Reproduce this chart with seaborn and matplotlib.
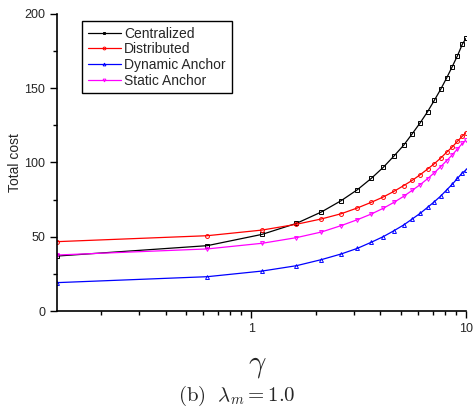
import numpy as np
import pandas as pd
import matplotlib
matplotlib.use("Agg")
import matplotlib.pyplot as plt
import seaborn as sns
from matplotlib.ticker import LogLocator, FixedLocator, NullFormatter, FixedFormatter

gamma = [0.125, 0.625, 1.125, 1.625, 2.125, 2.625, 3.125, 3.625, 4.125, 4.625, 5.125,
         5.625, 6.125, 6.625, 7.125, 7.625, 8.125, 8.625, 9.125, 9.625, 10.0]
centralized = [37.0, 44.0, 51.6, 59.0, 66.7, 74.3, 81.7, 89.3, 96.8, 104.4, 111.6,
               119.4, 126.8, 134.2, 141.9, 149.3, 156.9, 164.5, 171.9, 179.8, 183.6]
distributed = [46.7, 50.7, 54.5, 58.4, 62.0, 65.5, 69.4, 73.2, 76.8, 80.6, 84.4,
               88.0, 91.8, 95.6, 99.2, 103.0, 106.9, 110.4, 114.3, 117.8, 120.1]
dynamic_anchor = [19.1, 23.1, 26.9, 30.5, 34.6, 38.4, 42.2, 46.3, 50.1, 54.1, 57.9,
                  62.0, 65.8, 69.8, 73.6, 77.4, 81.5, 85.3, 89.3, 93.1, 94.9]
static_anchor = [37.7, 41.8, 45.6, 49.4, 53.2, 57.5, 61.5, 65.3, 69.2, 73.2, 77.2,
                 81.3, 85.1, 89.1, 93.1, 97.2, 101.2, 105.1, 109.1, 112.9, 115.2]
series_names = ["Centralized", "Distributed", "Dynamic Anchor", "Static Anchor"]
colors = ["#000000", "#ff0000", "#0000ff", "#ff00ff"]
markers = ["s", "o", "^", "v"]

rows = []
for name, vals in zip(series_names, [centralized, distributed, dynamic_anchor, static_anchor]):
    for g, v in zip(gamma, vals):
        rows.append({"gamma": g, "cost": v, "series": name})
df = pd.DataFrame(rows)

sns.set_style("ticks")
plt.rcParams["font.family"] = ["Liberation Sans", "DejaVu Sans"]
plt.rcParams["mathtext.fontset"] = "cm"

fig = plt.figure(figsize=(4.73, 4.15), dpi=100)
ax = fig.add_axes([57/473, 1 - 311/415, (466-57)/473, (311-14)/415])

sns.lineplot(data=df, x="gamma", y="cost", hue="series", style="series",
             hue_order=series_names, style_order=series_names,
             palette=dict(zip(series_names, colors)),
             markers=dict(zip(series_names, markers)), dashes=False,
             linewidth=0.9, markersize=2.8, ax=ax)
for ln in ax.lines:
    c = ln.get_color()
    ln.set_markeredgecolor(c)
    ln.set_markerfacecolor("none")
    ln.set_markeredgewidth(0.7)

ax.set_xscale("log")
ax.set_xlim(0.125, 10)
ax.set_ylim(0, 200)
ax.xaxis.set_major_locator(FixedLocator([1, 10]))
ax.xaxis.set_major_formatter(FixedFormatter(["1", "10"]))
ax.xaxis.set_minor_locator(LogLocator(base=10, subs=np.arange(2, 10)))
ax.xaxis.set_minor_formatter(NullFormatter())
ax.set_yticks([0, 50, 100, 150, 200])
ax.set_yticks([25, 75, 125, 175], minor=True)
ax.tick_params(axis="both", which="major", labelsize=9, length=5, width=1, direction="out", color="black")
ax.tick_params(axis="both", which="minor", length=3, width=1, direction="out", color="black")
for s in ["top", "right"]:
    ax.spines[s].set_visible(False)
for s in ["left", "bottom"]:
    ax.spines[s].set_linewidth(1.2)
    ax.spines[s].set_color("black")

ax.set_xlabel("")
ax.set_ylabel("Total cost", fontsize=10)
ax.yaxis.set_label_coords(-0.085, 0.5)

leg = ax.legend(loc="upper left", bbox_to_anchor=((82-57)/409, (311-21)/297), fontsize=10,
                frameon=True, fancybox=False, edgecolor="black", framealpha=1,
                borderaxespad=0, borderpad=0.4, labelspacing=0.12, handlelength=2.4,
                handletextpad=0.25)
leg.get_frame().set_linewidth(1.0)
for h in leg.legend_handles:
    h.set_markersize(2)
    h.set_markeredgecolor(h.get_color())

fig.text(0.545, 1 - 365/415, r"$\gamma$", fontsize=22, ha="center", va="center")
fig.text(0.5, 1 - 396/415, r"$\mathrm{(b)}\ \ \lambda_m = 1.0$", fontsize=15,
         ha="center", va="center")

fig.savefig("out.png", dpi=100)
